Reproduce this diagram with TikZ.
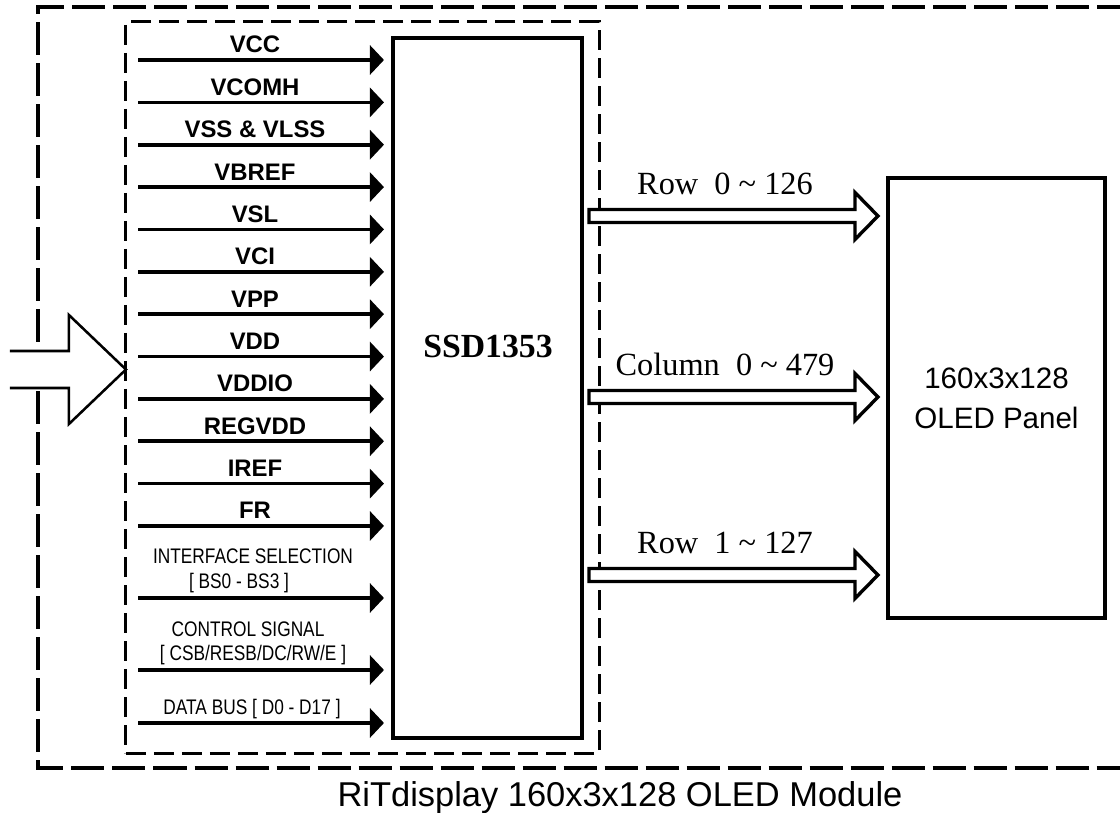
\documentclass[tikz,border=0pt]{standalone}
\usepackage{fontspec}
\setmainfont{Liberation Serif}
\setsansfont{Liberation Sans}
\newfontfamily\narrowsans[FakeStretch=0.82]{Liberation Sans}
\usetikzlibrary{arrows.meta,calc}

\begin{document}
\begin{tikzpicture}[
    x=0.025cm, y=-0.025cm,
    outerbox/.style={line width=2.6pt, dash pattern=on 0.825cm off 0.2cm},
    innerbox/.style={draw, line width=2.2pt, dash pattern=on 0.5cm off 0.2cm, inner sep=0pt, outer sep=0pt},
    chip/.style={draw, line width=2.6pt, inner sep=0pt, outer sep=0pt},
    pin/.style={line width=2.6pt, -{Triangle[length=10pt, width=20.6pt]}, shorten >=0.225cm},
    pinlabel/.style={font=\sffamily\bfseries\fontsize{17}{20}\selectfont, anchor=base, inner sep=0pt},
    buslabel/.style={font=\narrowsans\fontsize{15}{18}\selectfont, anchor=base, inner sep=0pt},
    hostarrow/.style={draw, line width=1.8pt, fill=white},
    wide/.style={draw, line width=2.4pt, fill=white},
    widelabel/.style={font=\fontsize{23}{26}\selectfont, anchor=base, inner sep=0pt}
]
    \useasboundingbox (0,0) rectangle (1120,813);

    % Module outline, open to the right
    \draw[outerbox] (1130,7) -- (38,7) -- (38,768) -- (1130,768);

    % Driver area, chip and panel
    \node[innerbox, minimum width=11.825cm, minimum height=18.275cm] (driver) at (362.5,387.5) {};
    \node[chip, minimum width=4.725cm, minimum height=17.5cm] (ssd) at (487.5,388) {};
    \node[font=\bfseries\fontsize{24}{28}\selectfont, anchor=base] (ssdname) at (488,358) {SSD1353};
    \node[chip, minimum width=5.425cm, minimum height=11cm, align=center,
          font=\sffamily\fontsize{21}{28.5}\selectfont] (panel) at (996.5,398) {160x3x128\\OLED Panel};

    % Power and reference pins
    \foreach \name [count=\i from 0] in {VCC, VCOMH, VSS \& VLSS, VBREF, VSL, VCI, VPP, VDD, VDDIO, REGVDD, IREF, FR} {
        \coordinate (p\i) at (138,{60+42.36*\i});
        \draw[pin] (p\i) -- (p\i -| ssd.west);
        \node[pinlabel] (n\i) at ($(p\i)+(117,-7)$) {\name};
    }

    % Interface pins
    \coordinate (bs) at (138,598);
    \draw[pin] (bs) -- (bs -| ssd.west);
    \node[buslabel] (bsname) at (253,563) {INTERFACE SELECTION};
    \node[buslabel] (bsrange) at (239,588) {[ BS0 - BS3 ]};
    \coordinate (cs) at (138,670);
    \draw[pin] (cs) -- (cs -| ssd.west);
    \node[buslabel] (csname) at (248,636) {CONTROL SIGNAL};
    \node[buslabel] (csrange) at (253,660) {[ CSB/RESB/DC/RW/E ]};
    \coordinate (db) at (138,723);
    \draw[pin] (db) -- (db -| ssd.west);
    \node[buslabel] (dbname) at (252,714) {DATA BUS [ D0 - D17 ]};

    % Host input
    \coordinate (host) at (driver.west |- 0,369.5);
    \draw[hostarrow] ($(host)+(-116,-18.5)$) -- ++(59,0) -- ++(0,-36) -- (host)
        -- ++(-57,54.5) -- ++(0,-36) -- ++(-59,0);

    % Outputs to panel
    \foreach \y/\txt [count=\i] in {216/{Row\ \ 0 \textasciitilde\ 126}, 397/{Column\ \ 0 \textasciitilde\ 479}, 575/{Row\ \ 1 \textasciitilde\ 127}} {
        \path (ssd.east |- 0,\y) ++(7,0) coordinate (o\i);
        \draw[wide] ($(o\i)+(0,-6.5)$) -- ++(266,0) -- ++(0,-17) -- ($(o\i -| panel.west)+(-10,0)$)
            -- ++(-23,23.5) -- ++(0,-17) -- ++(-266,0) -- cycle;
        \node[widelabel] (t\i) at ($(o\i)+(136,-21)$) {\txt};
    }

    % Caption
    \node[font=\sffamily\fontsize{24.5}{28}\selectfont, anchor=base] (caption) at (620,806) {RiTdisplay 160x3x128 OLED Module};
\end{tikzpicture}
\end{document}
